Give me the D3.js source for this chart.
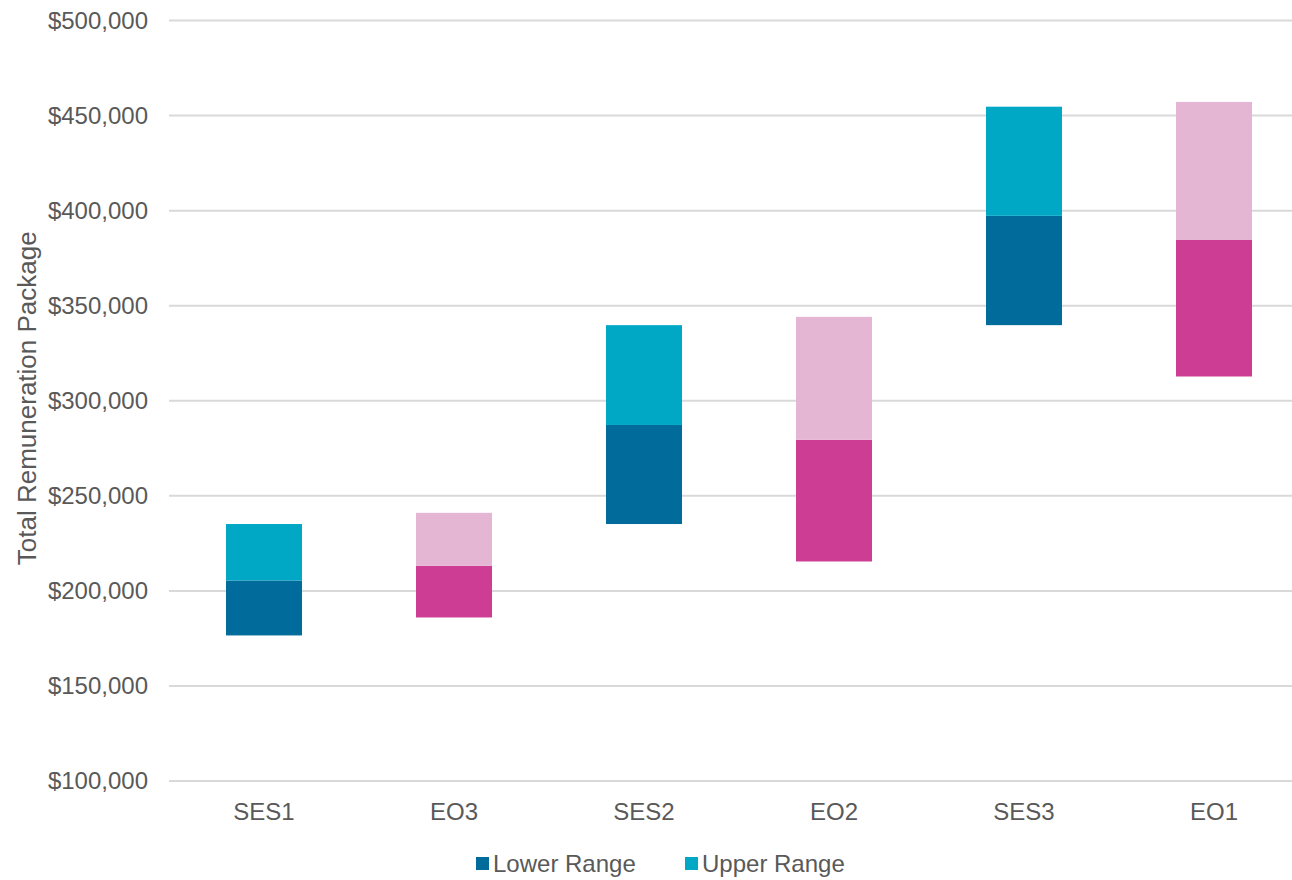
<!DOCTYPE html>
<html>
<head>
<meta charset="utf-8">
<script src="https://cdn.jsdelivr.net/npm/d3@7"></script>
<style>
  html, body { margin: 0; padding: 0; background: #ffffff; }
  svg { display: block; font-family: "Liberation Sans", Arial, sans-serif; }
</style>
</head>
<body>
<svg id="chart" width="1292" height="880"></svg>
<script>
// Remuneration bands per classification
const categories = ["SES1", "EO3", "SES2", "EO2", "SES3", "EO1"];
const streams    = ["SES", "EO", "SES", "EO", "SES", "EO"];
const rangeMin   = [176300, 185750, 234900, 215200, 339500, 312500];
const rangeMid   = [205200, 212900, 287000, 279200, 397000, 384300];
const rangeMax   = [234900, 240800, 339500, 343850, 454400, 456900];
const yTicks     = [100000, 150000, 200000, 250000, 300000, 350000, 400000, 450000, 500000];
const seriesNames = ["Lower Range", "Upper Range"];

const palette = {
  SES: { lower: "#016c9b", upper: "#00a8c6" },
  EO:  { lower: "#cc3d93", upper: "#e5b5d4" }
};
const textColor = "#595959";

const svg = d3.select("#chart");
const W = 1292;

const x = d3.scaleBand()
  .domain(categories)
  .range([169, 1309])
  .paddingInner(0.6)
  .paddingOuter(0.3);

const y = d3.scaleLinear()
  .domain([100000, 500000])
  .range([780.5, 20]);

// Gridlines and value labels
const yAxis = d3.axisLeft(y)
  .tickValues(yTicks)
  .tickFormat(d => "$" + d3.format(",")(d))
  .tickSize(-(1309 - 169))
  .tickPadding(21);

const gy = svg.append("g")
  .attr("transform", "translate(169,0)")
  .call(yAxis);
gy.select(".domain").remove();
gy.selectAll(".tick line")
  .attr("stroke", "#d9d9d9")
  .attr("stroke-width", 2);
gy.selectAll(".tick text")
  .attr("fill", textColor)
  .attr("font-size", 24)
  .attr("dy", "0.34em");

// Category labels
const xAxis = d3.axisBottom(x).tickSize(0).tickPadding(0);
const gx = svg.append("g")
  .attr("transform", "translate(0,802)")
  .call(xAxis);
gx.select(".domain").remove();
gx.selectAll(".tick text")
  .attr("fill", textColor)
  .attr("font-size", 24)
  .attr("dy", "0.75em");

// Floating stacked bars: lower range (min→mid), upper range (mid→max)
const rows = categories.map((c, i) => ({
  cat: c, stream: streams[i], min: rangeMin[i], mid: rangeMid[i], max: rangeMax[i]
}));

const bars = svg.append("g");
bars.selectAll("rect.lower")
  .data(rows)
  .join("rect")
  .attr("class", "lower")
  .attr("x", d => x(d.cat))
  .attr("width", x.bandwidth())
  .attr("y", d => y(d.mid))
  .attr("height", d => y(d.min) - y(d.mid))
  .attr("fill", d => palette[d.stream].lower);

bars.selectAll("rect.upper")
  .data(rows)
  .join("rect")
  .attr("class", "upper")
  .attr("x", d => x(d.cat))
  .attr("width", x.bandwidth())
  .attr("y", d => y(d.max))
  .attr("height", d => y(d.mid) - y(d.max))
  .attr("fill", d => palette[d.stream].upper);

// Axis title
svg.append("text")
  .attr("transform", "translate(36," + ((20 + 780.5) / 2 - 2) + ") rotate(-90)")
  .attr("text-anchor", "middle")
  .attr("fill", textColor)
  .attr("font-size", 26)
  .text("Total Remuneration Package");

// Legend
const legendItems = [
  { name: seriesNames[0], color: palette.SES.lower, x: 476 },
  { name: seriesNames[1], color: palette.SES.upper, x: 685 }
];
const lg = svg.append("g").selectAll("g")
  .data(legendItems)
  .join("g")
  .attr("transform", d => "translate(" + d.x + ",857)");
lg.append("rect")
  .attr("width", 13)
  .attr("height", 13)
  .attr("fill", d => d.color);
lg.append("text")
  .attr("x", 17)
  .attr("y", 15)
  .attr("fill", textColor)
  .attr("font-size", 24)
  .text(d => d.name);
</script>
</body>
</html>
